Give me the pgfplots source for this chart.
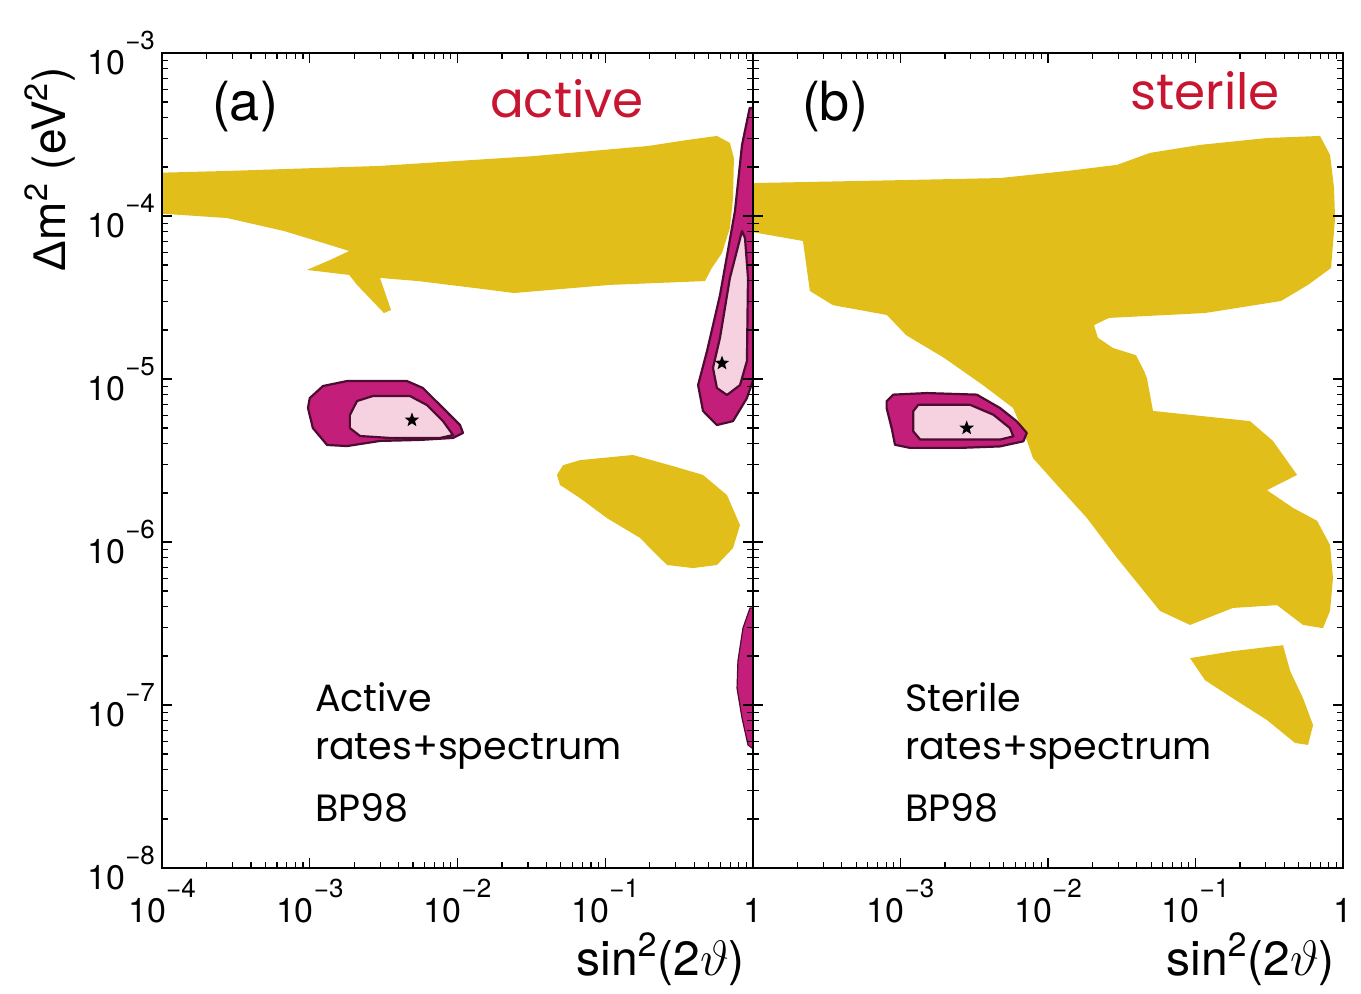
\documentclass[border=0pt]{standalone}
\usepackage{fontspec}
\setmainfont{TeX Gyre Heros}
\newfontfamily\geo{Poppins}
\newfontfamily\lib{Liberation Sans}
\usepackage{pgfplots}
\pgfplotsset{compat=1.18}

\definecolor{ylw}{RGB}{226,190,26}
\definecolor{mag}{RGB}{194,30,122}
\definecolor{pnk}{RGB}{246,210,224}
\definecolor{brd}{RGB}{78,12,50}
\definecolor{hand}{RGB}{200,22,50}

% filled five-pointed star for best-fit points
\pgfdeclareplotmark{fstar}{%
  \pgfpathmoveto{\pgfqpointpolar{90}{1\pgfplotmarksize}}%
  \pgfpathlineto{\pgfqpointpolar{126}{0.42\pgfplotmarksize}}%
  \pgfpathlineto{\pgfqpointpolar{162}{1\pgfplotmarksize}}%
  \pgfpathlineto{\pgfqpointpolar{198}{0.42\pgfplotmarksize}}%
  \pgfpathlineto{\pgfqpointpolar{234}{1\pgfplotmarksize}}%
  \pgfpathlineto{\pgfqpointpolar{270}{0.42\pgfplotmarksize}}%
  \pgfpathlineto{\pgfqpointpolar{306}{1\pgfplotmarksize}}%
  \pgfpathlineto{\pgfqpointpolar{342}{0.42\pgfplotmarksize}}%
  \pgfpathlineto{\pgfqpointpolar{18}{1\pgfplotmarksize}}%
  \pgfpathlineto{\pgfqpointpolar{54}{0.42\pgfplotmarksize}}%
  \pgfpathclose\pgfusepathqfill}

\newcommand{\ee}[1]{10\raisebox{0.72em}{\fontsize{13}{13}\selectfont #1}}

\tikzset{
  ylwreg/.style={fill=ylw, draw=none},
  islout/.style={fill=mag, draw=brd, line width=1.1pt, line join=round},
  islin/.style={fill=pnk, draw=brd, line width=1.1pt, line join=round},
}

\begin{document}
\begin{tikzpicture}[x=1pt,y=1pt]
\useasboundingbox (0,0) rectangle (680.5,496.5);

% ---------------- (a) active ----------------
\begin{axis}[at={(81pt,62.5pt)}, anchor=south west,
  scale only axis, width=295.5pt, height=407.5pt,
  xmode=log, ymode=log,
  xmin=1e-4, xmax=1, ymin=1e-8, ymax=1e-3,
  axis on top,
  axis line style={line width=0.9pt, black},
  major tick length=5pt, minor tick length=3pt,
  tick style={black, line width=0.6pt},
  tick align=inside,
  tick label style={font=\fontsize{17}{18}\selectfont},
  xticklabel style={yshift=-2pt},
  xtick={1e-4,1e-3,1e-2,1e-1,1},
  ytick={1e-8,1e-7,1e-6,1e-5,1e-4,1e-3},
  xticklabels={\ee{−4},\ee{−3},\ee{−2},\ee{−1},1\vphantom{\ee{−1}}},
  yticklabels={\ee{−8},\ee{−7},\ee{−6},\ee{−5},\ee{−4},\ee{−3}}]

\addplot[ylwreg] coordinates {
 (9e-5,1.84e-4) (2.75e-4,1.89e-4) (2.99e-3,2.03e-4) (3.24e-2,2.33e-4)
 (0.195,2.69e-4) (0.352,2.92e-4) (0.570,3.10e-4) (0.698,2.81e-4)
 (0.743,2.27e-4) (0.733,1.29e-4) (0.698,8.43e-5) (0.617,5.93e-5)
 (0.527,4.80e-5) (0.473,3.99e-5) (0.108,3.78e-5) (2.41e-2,3.37e-5)
 (1.33e-2,3.61e-5) (5.41e-3,3.99e-5) (2.99e-3,4.17e-5) (3.55e-3,2.65e-5)
 (3.18e-3,2.54e-5) (2.09e-3,3.78e-5) (1.85e-3,4.35e-5) (9.57e-4,4.67e-5)
 (1.37e-3,5.37e-5) (1.85e-3,6.10e-5) (1.37e-3,6.64e-5) (6.70e-4,8.09e-5)
 (2.75e-4,9.72e-5) (9e-5,1.04e-4)} -- cycle;

\addplot[ylwreg] coordinates {
 (4.71e-2,2.58e-6) (5.18e-2,2.96e-6) (6.75e-2,3.18e-6) (0.154,3.42e-6)
 (0.288,2.92e-6) (0.459,2.58e-6) (0.667,1.94e-6) (0.817,1.27e-6)
 (0.733,9.18e-7) (0.570,7.23e-7) (0.393,6.92e-7) (0.262,7.23e-7)
 (0.210,8.81e-7) (0.172,1.06e-6) (0.103,1.40e-6) (6.75e-2,1.86e-6)
 (4.94e-2,2.24e-6)} -- cycle;

% small-mixing-angle island
\addplot[islout] coordinates {
 (1.00e-3,7.64e-6) (1.23e-3,9.06e-6) (1.79e-3,9.72e-6) (4.55e-3,9.72e-6)
 (5.83e-3,8.81e-6) (7.62e-3,6.92e-6) (1.04e-2,5.22e-6) (1.09e-2,4.67e-6)
 (9.33e-3,4.35e-6) (5.57e-3,4.23e-6) (2.99e-3,4.17e-6) (1.79e-3,3.88e-6)
 (1.31e-3,3.94e-6) (1.05e-3,5.00e-6) (9.73e-4,6.64e-6)} -- cycle;
\addplot[islin] coordinates {
 (1.87e-3,6.01e-6) (2.09e-3,7.33e-6) (2.68e-3,7.87e-6) (4.76e-3,7.87e-6)
 (6.22e-3,6.92e-6) (7.98e-3,5.52e-6) (9.33e-3,4.53e-6) (7.62e-3,4.35e-6)
 (3.49e-3,4.35e-6) (2.19e-3,4.47e-6) (1.87e-3,5.00e-6)} -- cycle;
\addplot[only marks, mark=fstar, mark size=3.8pt, black] coordinates {(4.92e-3,5.60e-6)};

% large-mixing-angle island
\addplot[islout] coordinates {
 (0.95,4.6e-4) (0.843,2.73e-4) (0.755,1.07e-4) (0.598,3.27e-5)
 (0.489,1.49e-5) (0.425,9.18e-6) (0.459,6.37e-6) (0.570,5.22e-6)
 (0.733,5.52e-6) (0.910,7.64e-6) (1.05,1.12e-5) (1.05,4.6e-4)} -- cycle;
\addplot[islin] coordinates {
 (0.843,8.09e-5) (0.698,4.17e-5) (0.598,1.79e-5) (0.536,1.17e-5)
 (0.570,8.81e-6) (0.667,7.98e-6) (0.817,9.18e-6) (0.910,1.29e-5)
 (0.925,4.17e-5) (0.883,7.33e-5)} -- cycle;
\addplot[only marks, mark=fstar, mark size=3.8pt, black] coordinates {(0.617,1.25e-5)};

% LOW island
\addplot[fill=mag, draw=brd, line width=0.6pt] coordinates {
 (0.955,3.94e-7) (0.855,2.96e-7) (0.791,1.86e-7) (0.780,1.27e-7)
 (0.843,8.32e-8) (0.925,5.69e-8) (1.05,5.22e-8) (1.05,3.94e-7)} -- cycle;
\end{axis}

% ---------------- (b) sterile ----------------
\begin{axis}[at={(376.5pt,62.5pt)}, anchor=south west,
  scale only axis, width=295pt, height=407.5pt,
  xmode=log, ymode=log,
  xmin=1e-4, xmax=1, ymin=1e-8, ymax=1e-3,
  axis on top,
  axis line style={line width=0.9pt, black},
  major tick length=5pt, minor tick length=3pt,
  tick style={black, line width=0.6pt},
  tick align=inside,
  tick label style={font=\fontsize{17}{18}\selectfont},
  xticklabel style={yshift=-2pt},
  xtick={1e-4,1e-3,1e-2,1e-1,1},
  ytick={1e-8,1e-7,1e-6,1e-5,1e-4,1e-3},
  xticklabels={,\ee{−3},\ee{−2},\ee{−1},1\vphantom{\ee{−1}}},
  yticklabels={}]

\addplot[ylwreg] coordinates {
 (9e-5,1.59e-4) (9.93e-4,1.66e-4) (4.73e-3,1.71e-4) (1.35e-2,1.89e-4)
 (2.94e-2,2.06e-4) (4.92e-2,2.44e-4) (0.107,2.73e-4) (0.305,3.01e-4)
 (0.698,3.10e-4) (0.817,2.37e-4) (0.869,1.49e-4) (0.883,9.72e-5)
 (0.830,4.80e-5) (0.579,3.78e-5) (0.380,3.01e-5) (0.116,2.54e-5)
 (2.59e-2,2.37e-5) (2.05e-2,2.14e-5) (2.18e-2,1.79e-5) (2.76e-2,1.55e-5)
 (3.95e-2,1.40e-5) (4.48e-2,1.12e-5) (4.69e-2,1.01e-5) (5.15e-2,6.37e-6)
 (0.234,5.52e-6) (0.335,4.17e-6) (0.488,2.58e-6) (0.305,2.08e-6)
 (0.458,1.62e-6) (0.667,1.35e-6) (0.817,9.59e-7) (0.855,6.01e-7)
 (0.817,3.78e-7) (0.731,2.96e-7) (0.536,3.10e-7) (0.357,4.10e-7)
 (0.179,3.94e-7) (9.18e-2,3.10e-7) (5.74e-2,3.78e-7) (2.94e-2,7.98e-7)
 (1.84e-2,1.40e-6) (1.15e-2,2.24e-6) (7.91e-3,3.27e-6) (7.21e-3,4.17e-6)
 (5.80e-3,6.64e-6) (3.62e-3,9.18e-6) (1.97e-3,1.35e-5) (1.09e-3,1.86e-5)
 (8.09e-4,2.47e-5) (3.48e-4,2.84e-5) (2.43e-4,3.47e-5) (2.18e-4,7.03e-5)
 (9e-5,8.09e-5)} -- cycle;

\addplot[ylwreg] coordinates {
 (9.18e-2,1.94e-7) (0.179,2.14e-7) (0.392,2.33e-7) (0.438,1.62e-7)
 (0.536,1.10e-7) (0.627,7.53e-8) (0.579,5.69e-8) (0.473,5.85e-8)
 (0.305,8.09e-8) (0.179,1.10e-7) (0.116,1.42e-7)} -- cycle;

\addplot[islout] coordinates {
 (8.05e-4,7.30e-6) (8.93e-4,8.02e-6) (1.51e-3,8.20e-6) (3.29e-3,8.02e-6)
 (4.73e-3,6.64e-6) (6.14e-3,5.50e-6) (7.18e-3,4.67e-6) (6.81e-3,4.15e-6)
 (4.73e-3,3.86e-6) (2.53e-3,3.78e-6) (1.16e-3,3.78e-6) (9.18e-4,3.95e-6)
 (8.71e-4,5.00e-6) (8.05e-4,6.64e-6)} -- cycle;
\addplot[islin] coordinates {
 (1.22e-3,6.34e-6) (1.32e-3,6.95e-6) (2.96e-3,6.95e-6) (4.26e-3,6.04e-6)
 (5.52e-3,5.00e-6) (5.82e-3,4.45e-6) (4.73e-3,4.25e-6) (1.36e-3,4.25e-6)
 (1.22e-3,4.78e-6)} -- cycle;
\addplot[only marks, mark=fstar, mark size=3.8pt, black] coordinates {(2.81e-3,5.00e-6)};
\end{axis}

% labels and annotations
\node[rotate=90, font=\fontsize{23}{24}\selectfont] at (25,412) {{\lib Δ}m\textsuperscript{2} (eV\textsuperscript{2})};
\node[anchor=base east, font=\fontsize{24}{26}\selectfont] at (376,9) {sin\textsuperscript{2}(2$\vartheta$)};
\node[anchor=base east, font=\fontsize{24}{26}\selectfont] at (671,9) {sin\textsuperscript{2}(2$\vartheta$)};

\node[font=\fontsize{27}{28}\selectfont] at (122.5,443) {(a)};
\node[font=\fontsize{27}{28}\selectfont] at (417.5,443) {(b)};

\node[text=hand, font=\geo\fontsize{25}{26}\selectfont] at (283.5,447) {active};
\node[text=hand, font=\geo\fontsize{25}{26}\selectfont] at (602.5,451) {sterile};

\node[anchor=base west, font=\geo\fontsize{19}{20}\selectfont] at (154,141) {Active};
\node[anchor=base west, font=\geo\fontsize{19}{20}\selectfont] at (154,117) {rates+spectrum};
\node[anchor=base west, font=\geo\fontsize{19}{20}\selectfont] at (154,86) {BP98};
\node[anchor=base west, font=\geo\fontsize{19}{20}\selectfont] at (449,141) {Sterile};
\node[anchor=base west, font=\geo\fontsize{19}{20}\selectfont] at (449,117) {rates+spectrum};
\node[anchor=base west, font=\geo\fontsize{19}{20}\selectfont] at (449,86) {BP98};
\end{tikzpicture}
\end{document}
